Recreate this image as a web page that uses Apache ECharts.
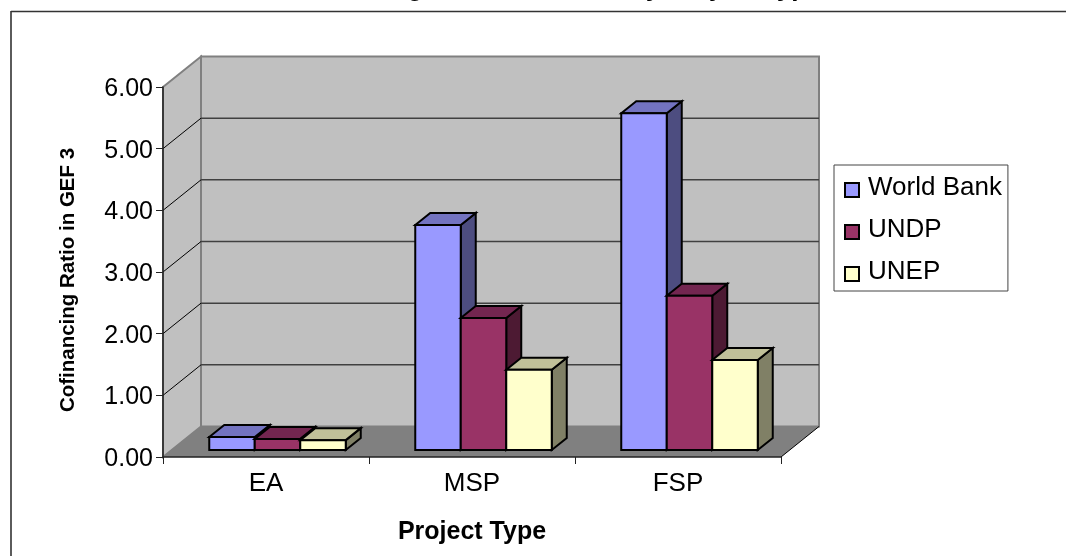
<!DOCTYPE html>
<html>
<head>
<meta charset="utf-8">
<style>html,body{margin:0;padding:0;background:#fff}#chart{width:1066px;height:556px}</style>
<script src="https://cdn.jsdelivr.net/npm/echarts@6/dist/echarts.min.js"></script>
</head>
<body>
<div id="chart"></div>
<script>
const categories = ['EA', 'MSP', 'FSP'];
const worldBank = [0.21, 3.65, 5.46];
const undp = [0.18, 2.14, 2.50];
const unep = [0.16, 1.30, 1.46];
const yTicks = [0, 1, 2, 3, 4, 5, 6];

// Oblique projection used for the box walls and the bars
const WALL_DX = 38, WALL_DY = -30.5;
const BAR_DX = 15, BAR_DY = -12;
const BAR_SHIFT_X = 11.5, BAR_SHIFT_Y = -7;
const BAR_WIDTH = 45.5;
const FONT = '"Liberation Sans", Arial, sans-serif';

function poly(points, fill, stroke, lineWidth) {
  return {
    type: 'polygon',
    shape: { points },
    style: { fill, stroke: stroke || null, lineWidth: lineWidth || 0, lineJoin: 'miter' }
  };
}

function line(x1, y1, x2, y2, stroke, lineWidth) {
  return { type: 'line', shape: { x1, y1, x2, y2 }, style: { stroke, lineWidth } };
}

function renderWalls(params, api) {
  const cs = params.coordSys;
  const left = cs.x, right = cs.x + cs.width;
  const y0 = api.coord([0, 0])[1];
  const yTop = api.coord([0, 6])[1];
  const children = [
    poly([[left, yTop], [left + WALL_DX, yTop + WALL_DY], [left + WALL_DX, y0 + WALL_DY], [left, y0]], '#c0c0c0', '#808080', 2),
    poly([[left + WALL_DX, yTop + WALL_DY], [right + WALL_DX, yTop + WALL_DY], [right + WALL_DX, y0 + WALL_DY], [left + WALL_DX, y0 + WALL_DY]], '#c0c0c0', '#808080', 2),
    poly([[left, y0], [left + WALL_DX, y0 + WALL_DY], [right + WALL_DX, y0 + WALL_DY], [right, y0]], '#808080')
  ];
  yTicks.slice(1, -1).forEach(function (t) {
    const y = api.coord([0, t])[1];
    children.push(line(left, y, left + WALL_DX, y + WALL_DY, '#000', 1));
    children.push(line(left + WALL_DX, y + WALL_DY, right + WALL_DX, y + WALL_DY, '#404040', 1.5));
  });
  children.push(line(right, y0, right + WALL_DX, y0 + WALL_DY, '#000', 1));
  return { type: 'group', children };
}

function barRenderer(slot, front, top, side) {
  return function (params, api) {
    const center = api.coord([api.value(0), 0]);
    const head = api.coord([api.value(0), api.value(1)]);
    const x0 = center[0] + BAR_SHIFT_X + (slot - 0.5) * BAR_WIDTH;
    const x1 = x0 + BAR_WIDTH;
    const yb = center[1] + BAR_SHIFT_Y;
    const yt = head[1] + BAR_SHIFT_Y;
    const s = '#000', w = 2;
    return {
      type: 'group',
      children: [
        poly([[x1, yt], [x1 + BAR_DX, yt + BAR_DY], [x1 + BAR_DX, yb + BAR_DY], [x1, yb]], side, s, w),
        poly([[x0, yt], [x0 + BAR_DX, yt + BAR_DY], [x1 + BAR_DX, yt + BAR_DY], [x1, yt]], top, s, w),
        poly([[x0, yt], [x1, yt], [x1, yb], [x0, yb]], front, s, w)
      ]
    };
  };
}

function barSeries(name, values, slot, front, top, side) {
  return {
    type: 'custom',
    name,
    clip: false,
    z: 3,
    data: values.map((v, i) => [i, v]),
    encode: { x: 0, y: 1 },
    itemStyle: { color: front, borderColor: '#000', borderWidth: 1.5 },
    renderItem: barRenderer(slot, front, top, side)
  };
}

const chart = echarts.init(document.getElementById('chart'));
chart.setOption({
  animation: false,
  backgroundColor: '#fff',
  textStyle: { fontFamily: FONT },
  title: {
    text: 'Cofinancing Ratios in GEF 3 by Project Type',
    left: 273,
    top: -24.5,
    padding: 0,
    textStyle: { fontFamily: FONT, fontSize: 26, fontWeight: 'bold', color: '#000' }
  },
  grid: { left: 163, right: 285, top: 87, bottom: 99 },
  graphic: [
    { type: 'line', shape: { x1: 11, y1: 11.5, x2: 1066, y2: 11.5 }, style: { stroke: '#333', lineWidth: 1.6 }, silent: true },
    { type: 'line', shape: { x1: 11, y1: 11, x2: 11, y2: 556 }, style: { stroke: '#333', lineWidth: 1.6 }, silent: true }
  ],
  legend: {
    orient: 'vertical',
    left: 834,
    top: 165,
    padding: [10, 6, 6, 10],
    itemWidth: 14,
    itemHeight: 14,
    itemGap: 16,
    icon: 'rect',
    borderColor: '#444',
    borderWidth: 1,
    data: ['World Bank', 'UNDP', 'UNEP'],
    formatter: name => '{t|' + name + '}',
    textStyle: {
      fontFamily: FONT, fontSize: 26, color: '#000', padding: [0, 0, 0, 4],
      rich: { t: { fontFamily: FONT, fontSize: 26, color: '#000', padding: [0, 0, 4, 0] } }
    }
  },
  xAxis: {
    type: 'category',
    data: categories,
    name: 'Project Type',
    nameLocation: 'middle',
    nameGap: 63,
    nameTextStyle: { fontFamily: FONT, fontSize: 25, fontWeight: 'bold', color: '#000' },
    axisLine: { lineStyle: { color: '#222', width: 1.5 } },
    axisTick: { show: true, length: 7, lineStyle: { color: '#222', width: 1 } },
    axisLabel: { fontFamily: FONT, fontSize: 26, color: '#000', margin: 14 },
    splitLine: { show: false },
    z: 2
  },
  yAxis: {
    type: 'value',
    min: 0,
    max: 6,
    interval: 1,
    name: 'Cofinancing Ratio in GEF 3',
    nameLocation: 'middle',
    nameGap: 84,
    nameTextStyle: { fontFamily: FONT, fontSize: 20.5, fontWeight: 'bold', color: '#000', padding: [0, 16, 0, 0] },
    axisLine: { show: true, lineStyle: { color: '#222', width: 1.5 } },
    axisTick: { show: true, length: 7, lineStyle: { color: '#222', width: 1 } },
    axisLabel: {
      fontFamily: FONT, fontSize: 25, color: '#000', margin: 10,
      formatter: v => '{v|' + v.toFixed(2) + '}',
      rich: { v: { fontFamily: FONT, fontSize: 25, color: '#000', padding: [4, 0, 0, 0] } }
    },
    splitLine: { show: false },
    z: 2
  },
  series: [
    { type: 'custom', name: 'box', clip: false, z: 1, silent: true, data: [[0, 0]], encode: { x: 0, y: 1 }, renderItem: renderWalls },
    barSeries('World Bank', worldBank, -1, '#9999ff', '#7373c0', '#4d4d80'),
    barSeries('UNDP', undp, 0, '#993366', '#732650', '#4d1a33'),
    barSeries('UNEP', unep, 1, '#ffffcc', '#c0c099', '#808066')
  ]
});
</script>
</body>
</html>
